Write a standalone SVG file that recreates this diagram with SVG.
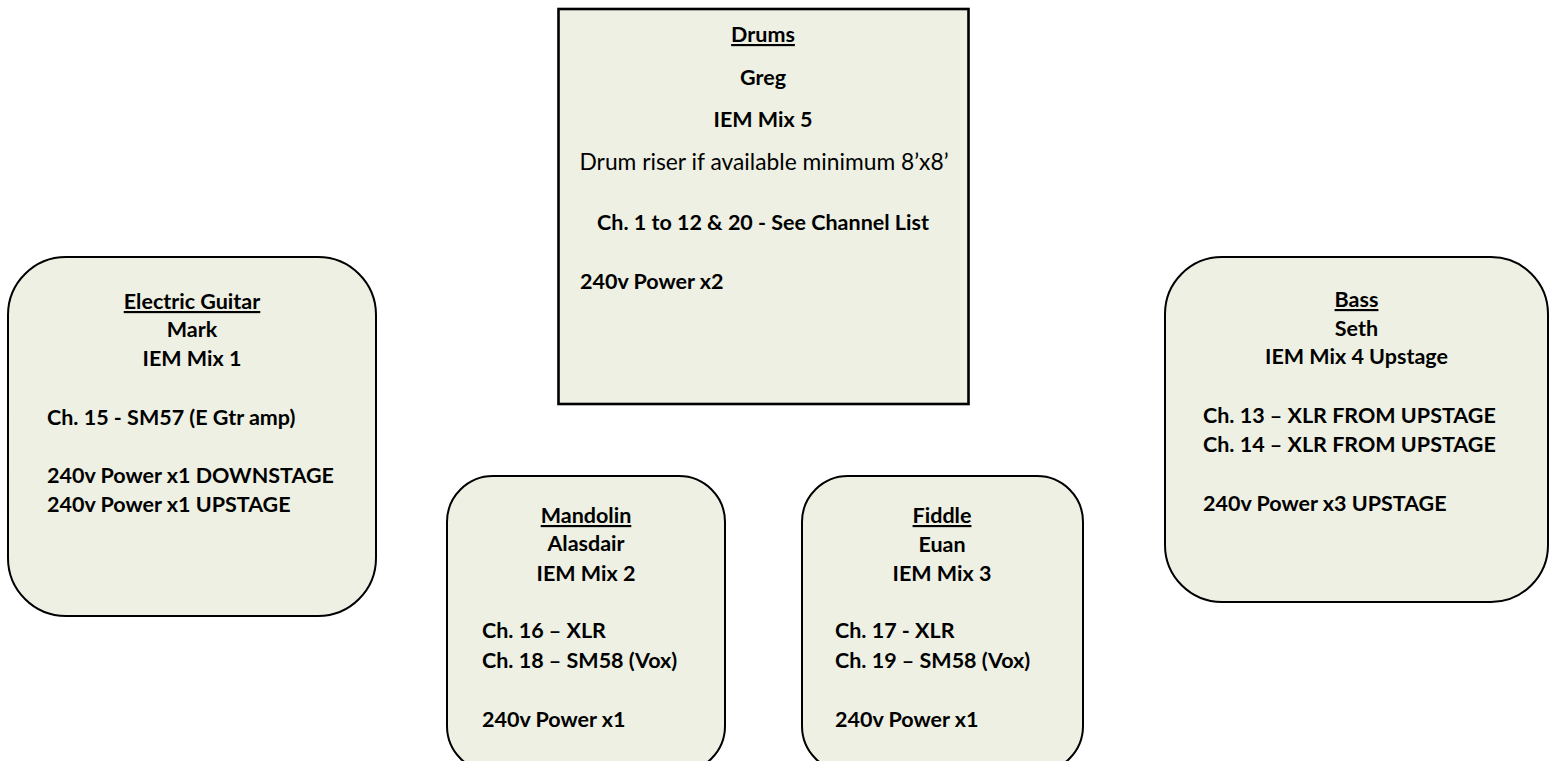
<svg xmlns="http://www.w3.org/2000/svg" width="1556" height="761" viewBox="0 0 1556 761">
<style>
  .box { fill: #EDF0E3; stroke: #000; stroke-width: 2; }
  .sq { fill: #EDF0E3; stroke: #000; stroke-width: 2.6; }
  text { font-family: "Lato", "Open Sans", "Liberation Sans", sans-serif; font-size: 21.5px; font-weight: bold; fill: #000; }
  .c { text-anchor: middle; }
  .u { text-decoration: underline; }
  .r { font-weight: normal; font-size: 22.8px; }
</style>
<rect width="1556" height="761" fill="#fff"/>
<g id="connectors"/>
<g id="drums">
  <rect class="sq" x="558.5" y="9" width="410" height="395"/>
  <text class="c u" x="763" y="42">Drums</text>
  <text class="c" x="763" y="85">Greg</text>
  <text class="c" x="763" y="127">IEM Mix 5</text>
  <text class="c r" x="764" y="170">Drum riser if available minimum 8’x8’</text>
  <text class="c" x="763" y="230">Ch. 1 to 12 &amp; 20 - See Channel List</text>
  <text x="580" y="289">240v Power x2</text>
</g>
<g id="electric-guitar">
  <rect class="box" x="8" y="257" width="368" height="359" rx="58" ry="58"/>
  <text class="c u" x="192" y="309">Electric Guitar</text>
  <text class="c" x="192" y="337">Mark</text>
  <text class="c" x="192" y="366">IEM Mix 1</text>
  <text x="47" y="425">Ch. 15 - SM57 (E Gtr amp)</text>
  <text x="47" y="483">240v Power x1 DOWNSTAGE</text>
  <text x="47" y="512">240v Power x1 UPSTAGE</text>
</g>
<g id="mandolin">
  <rect class="box" x="447" y="476" width="278" height="296" rx="46" ry="46"/>
  <text class="c u" x="586" y="523">Mandolin</text>
  <text class="c" x="586" y="551">Alasdair</text>
  <text class="c" x="586" y="581">IEM Mix 2</text>
  <text x="482" y="638">Ch. 16 – XLR</text>
  <text x="482" y="668">Ch. 18 – SM58 (Vox)</text>
  <text x="482" y="727">240v Power x1</text>
</g>
<g id="fiddle">
  <rect class="box" x="802" y="476" width="281" height="296" rx="46" ry="46"/>
  <text class="c u" x="942" y="523">Fiddle</text>
  <text class="c" x="942" y="552">Euan</text>
  <text class="c" x="942" y="581">IEM Mix 3</text>
  <text x="835" y="638">Ch. 17 - XLR</text>
  <text x="835" y="668">Ch. 19 – SM58 (Vox)</text>
  <text x="835" y="727">240v Power x1</text>
</g>
<g id="bass">
  <rect class="box" x="1165" y="257" width="383" height="345" rx="57" ry="57"/>
  <text class="c u" x="1356.5" y="307">Bass</text>
  <text class="c" x="1356.5" y="336">Seth</text>
  <text class="c" x="1356.5" y="364">IEM Mix 4 Upstage</text>
  <text x="1203" y="423">Ch. 13 – XLR FROM UPSTAGE</text>
  <text x="1203" y="452">Ch. 14 – XLR FROM UPSTAGE</text>
  <text x="1203" y="511">240v Power x3 UPSTAGE</text>
</g>
</svg>
